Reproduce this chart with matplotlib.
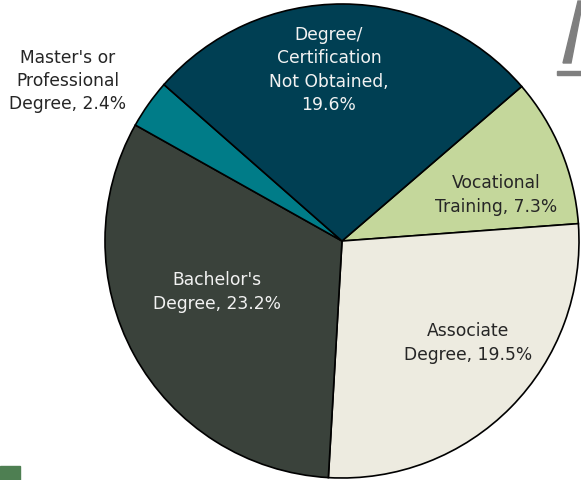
import matplotlib.pyplot as plt
from matplotlib.patches import Polygon, Rectangle

# data (clockwise from upper right)
labels = ['Vocational\nTraining', 'Associate\nDegree', "Bachelor's\nDegree",
          "Master's or\nProfessional\nDegree", 'Degree/\nCertification\nNot Obtained,\n']
values = [7.3, 19.5, 23.2, 2.4, 19.6]

colors = ['#C4D79B', '#EDEBE0', '#3A423B', '#007C88', '#003F53']
text_colors = ['#262626', '#262626', '#F2F2F2', '#262626', '#F2F2F2']
# label centers, in units of the pie radius
label_pos = [(0.65, 0.198), (0.532, -0.426), (-0.527, -0.211), (-1.156, 0.679), (-0.055, 0.726)]

plt.rcParams['font.family'] = ['DejaVu Sans']

fig = plt.figure(figsize=(5.81, 4.81), dpi=100)
r_px = 237
cx, cy = 342, 481 - 242
ax = fig.add_axes([(cx - r_px) / 581, (cy - r_px) / 481, 2 * r_px / 581, 2 * r_px / 481])

ax.pie(values, colors=colors, startangle=40.7, counterclock=False, radius=1,
       wedgeprops=dict(edgecolor='black', linewidth=1.2))
ax.set_xlim(-1, 1)
ax.set_ylim(-1, 1)
ax.set_aspect('equal')
ax.axis('off')

for lab, v, (x, y), tc in zip(labels, values, label_pos, text_colors):
    if lab.endswith('\n'):
        txt = lab + '{:.1f}%'.format(v)
    else:
        txt = lab + ', {:.1f}%'.format(v)
    ax.text(x, y, txt, ha='center', va='center', color=tc, fontsize=12.3,
            linespacing=1.38, clip_on=False)

# decorations from the original slide
fig.patches.append(Rectangle((0, 0), 20 / 581, 14 / 481, transform=fig.transFigure,
                             color='#4E7F52'))
fig.patches.append(Polygon([(563 / 581, 1 - 64 / 481), (571 / 581, 1 - 64 / 481),
                            (581 / 581, 1 - 12 / 481), (581 / 581, 1 - 2 / 481),
                            (578 / 581, 1 - 2 / 481)],
                           closed=True, transform=fig.transFigure, color='#7F7F7F'))
fig.patches.append(Rectangle((557 / 581, 1 - 76 / 481), 24 / 581, 4 / 481,
                             transform=fig.transFigure, color='#7F7F7F'))

fig.savefig('out.png', dpi=100)
